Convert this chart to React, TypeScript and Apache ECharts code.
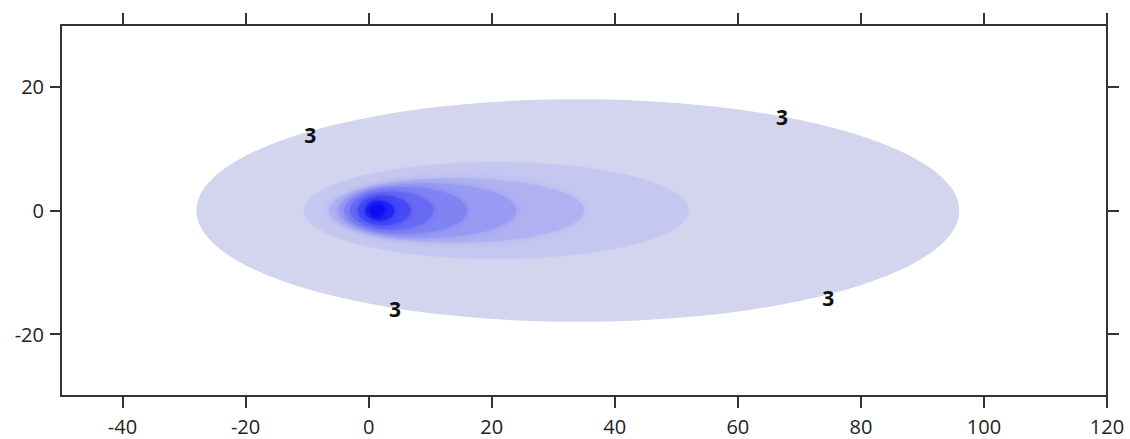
import React, { useEffect, useRef } from "react";
import * as echarts from "echarts";

// Contour levels (outer → inner), each an ellipse centred on y = 0
const levelXMin = [-28, -10.5, -6.5, -5.0, -4.0, -3.0, -1.8, -0.6, 0.2];
const levelXMax = [96, 52, 35, 24, 16, 10.5, 6.8, 4.2, 2.6];
const levelYHalf = [18, 7.8, 5.2, 4.4, 3.8, 3.1, 2.4, 1.6, 1.0];
const levelColors = [
  "#d3d4ed",
  "#c5c7f0",
  "#afb1f1",
  "#989bf2",
  "#8084f3",
  "#676bf4",
  "#474bf5",
  "#2428f4",
  "#0b0df0",
];
const levelBlur = [0, 2, 7, 7, 7, 7, 7, 7, 7];

// Contour labels
const labelX = [-9.5, 67.2, 4.3, 74.7];
const labelY = [12.2, 15.1, -15.9, -14.1];
const labelText = ["3", "3", "3", "3"];

// Tick values
const xTicks = [-40, -20, 0, 20, 40, 60, 80, 100, 120];
const yTicks = [-20, 0, 20];

export default function App() {
  const ref = useRef<HTMLDivElement>(null);
  useEffect(() => {
    if (!ref.current) return;
    const chart = echarts.init(ref.current, null, { renderer: "svg" });
    const axisLineStyle = { color: "#333", width: 2 };
    const labelFont = {
      fontFamily: "Open Sans",
      fontSize: 20,
      color: "#222",
    };
    const levelData = levelXMin.map((v, i) => [v, levelXMax[i], levelYHalf[i]]);
    chart.setOption({
      animation: false,
      backgroundColor: "#ffffff",
      grid: { left: 61, right: 23, top: 25, bottom: 43, containLabel: false },
      xAxis: [
        {
          type: "value",
          position: "bottom",
          min: -50,
          max: 120,
          axisLine: { show: true, onZero: false, lineStyle: axisLineStyle },
          axisTick: { show: true, length: 12, inside: false, customValues: xTicks, lineStyle: axisLineStyle },
          axisLabel: { show: true, margin: 20, customValues: xTicks, ...labelFont },
          splitLine: { show: false },
        },
        {
          type: "value",
          position: "top",
          min: -50,
          max: 120,
          axisLine: { show: true, onZero: false, lineStyle: axisLineStyle },
          axisTick: { show: true, length: 12, inside: false, customValues: xTicks, lineStyle: axisLineStyle },
          axisLabel: { show: false },
          splitLine: { show: false },
        },
      ],
      yAxis: [
        {
          type: "value",
          position: "left",
          min: -30,
          max: 30,
          axisLine: { show: true, onZero: false, lineStyle: axisLineStyle },
          axisTick: { show: true, length: 11, inside: false, customValues: yTicks, lineStyle: axisLineStyle },
          axisLabel: { show: true, margin: 17, customValues: yTicks, ...labelFont },
          splitLine: { show: false },
        },
        {
          type: "value",
          position: "right",
          min: -30,
          max: 30,
          axisLine: { show: true, onZero: false, lineStyle: axisLineStyle },
          axisTick: { show: true, length: 12, inside: false, customValues: yTicks, lineStyle: axisLineStyle },
          axisLabel: { show: false },
          splitLine: { show: false },
        },
      ],
      series: [
        {
          type: "custom",
          xAxisIndex: 0,
          yAxisIndex: 0,
          data: levelData,
          clip: true,
          renderItem: (params: any, api: any) => {
            const xmin = api.value(0);
            const xmax = api.value(1);
            const hh = api.value(2);
            const cx = (xmin + xmax) / 2;
            const rx = (xmax - xmin) / 2;
            const pts: number[][] = [];
            const n = 120;
            for (let k = 0; k < n; k++) {
              const t = (k / n) * Math.PI * 2;
              pts.push(api.coord([cx + rx * Math.cos(t), hh * Math.sin(t)]));
            }
            const i = params.dataIndex;
            return {
              type: "polygon",
              shape: { points: pts },
              style: {
                fill: levelColors[i],
                stroke: null,
                shadowBlur: levelBlur[i],
                shadowColor: levelBlur[i] ? levelColors[i] : "transparent",
              },
            };
          },
          z: 1,
        },
        {
          type: "scatter",
          xAxisIndex: 0,
          yAxisIndex: 0,
          symbolSize: 0,
          itemStyle: { opacity: 1 },
          data: labelX.map((x, i) => [x, labelY[i], labelText[i]]),
          label: {
            show: true,
            position: "inside",
            formatter: (p: any) => p.value[2],
            fontFamily: "Open Sans",
            fontWeight: "bold",
            fontSize: 21,
            color: "#111",
            opacity: 1,
          },
          z: 5,
        },
      ],
    });
    return () => chart.dispose();
  }, []);
  return (
    <div
      ref={ref}
      style={{ position: "absolute", left: 0, top: 0, width: 1130, height: 439 }}
    />
  );
}
